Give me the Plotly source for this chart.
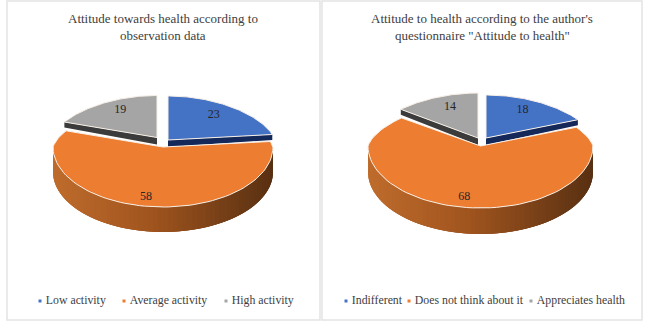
import math
import plotly.graph_objects as go

# ---- data ----
left_title = ["Attitude towards health according to", "observation data"]
left_categories = ["Low activity", "Average activity", "High activity"]
left_values = [23, 58, 19]

right_title = ["Attitude to health according to the author's", 'questionnaire "Attitude to health"']
right_categories = ["Indifferent", "Does not think about it", "Appreciates health"]
right_values = [18, 68, 14]

# ---- style ----
TOP = ["#4472C4", "#ED7D31", "#A5A5A5"]
DARK = ["#14295a", None, "#3b3b3b"]
SIDE_STOPS = [(0.0, (190, 108, 44)), (0.45, (160, 84, 30)), (1.0, (88, 48, 18))]
INK = "#404040"
FONT = "Liberation Serif"
PERSP = 0.14          # back of the disc narrows
DEPTH_SMALL = 7

# centre x, centre y, radius x, back radius y, front radius y
LEFT = dict(
    centres=[(168, 140, 107, 44, 44), (163, 147, 110, 44, 60), (157, 137.5, 105, 42, 42)],
    depth=25, label_r=[0.65, 0.8, 0.8], label_nudge=[(3, -4), (-6, 2), (6, 0)],
    title_x=163, legend_x=[40, 124, 226], panel=(7, 1, 320, 320),
)
RIGHT = dict(
    centres=[(486, 138, 108, 43, 43), (480.5, 146, 112.5, 44, 62), (478, 138, 110, 45, 45)],
    depth=26, label_r=[0.75, 0.8, 0.78], label_nudge=[(-3, -1), (-5, 2), (5, 1)],
    title_x=482, legend_x=[346, 409, 531], panel=(322, 1, 642, 320),
)


def project(c, theta, r=1.0):
    """theta in radians clockwise from north, r in disc radii."""
    cx, cy, rx, ry_back, ry_front = c
    u = r * math.sin(theta)
    v = r * math.cos(theta)
    if v > 0:
        return cx + rx * u * (1 - PERSP * v), cy - ry_back * v
    return cx + rx * u, cy - ry_front * v


def arc(c, a, b, n=80):
    return [project(c, a + (b - a) * i / n) for i in range(n + 1)]


def shade(t):
    for (t0, c0), (t1, c1) in zip(SIDE_STOPS, SIDE_STOPS[1:]):
        if t <= t1:
            f = (t - t0) / (t1 - t0)
            return "rgb(%d,%d,%d)" % tuple(round(p + (q - p) * f) for p, q in zip(c0, c1))
    return "rgb(%d,%d,%d)" % SIDE_STOPS[-1][1]


def poly(fig, pts, color, line=None, width=0):
    fig.add_trace(go.Scatter(
        x=[p[0] for p in pts], y=[p[1] for p in pts], mode="lines", fill="toself",
        fillcolor=color, line=dict(color=line or color, width=width),
        hoverinfo="skip", showlegend=False,
    ))


def draw(fig, values, categories, title, cfg):
    x0, y0, x1, y1 = cfg["panel"]
    fig.add_shape(type="rect", x0=x0, y0=y0, x1=x1, y1=y1, layer="below",
                  line=dict(color="#e3e3e3", width=1.5), fillcolor="white")
    total = sum(values)
    spans, a = [], 0.0
    for v in values:
        b = a + 2 * math.pi * v / total
        spans.append((a, b))
        a = b

    # rim of the large slice, front half only; strips overlap to hide seams
    c = cfg["centres"][1]
    a, b = spans[1]
    lo, hi = max(a, math.pi / 2), min(b, 3 * math.pi / 2)
    n = 70
    d = cfg["depth"]
    for i in range(n):
        t0 = lo + (hi - lo) * i / n
        t1 = lo + (hi - lo) * min(i + 3, n) / n
        p0, p1 = project(c, t0), project(c, t1)
        mid = project(c, lo + (hi - lo) * (i + 0.5) / n)
        poly(fig, [p0, mid, p1, (p1[0], p1[1] + d), (mid[0], mid[1] + d), (p0[0], p0[1] + d)],
             shade((mid[0] - (c[0] - c[2])) / (2 * c[2])))

    # cut faces of the two back slices
    for idx, edge in ((0, 1), (2, 0)):
        cc = cfg["centres"][idx]
        th = spans[idx][edge]
        apex = (cc[0], cc[1])
        end = project(cc, th)
        poly(fig, [apex, end, (end[0], end[1] + DEPTH_SMALL - 1.5), (apex[0], apex[1] + DEPTH_SMALL)], DARK[idx])

    # top faces
    for idx in range(3):
        cc = cfg["centres"][idx]
        a, b = spans[idx]
        pts = [(cc[0], cc[1])] + arc(cc, a, b) + [(cc[0], cc[1])]
        poly(fig, pts, TOP[idx], line="#f7efe6", width=1)

    # value labels
    for idx, v in enumerate(values):
        a, b = spans[idx]
        px, py = project(cfg["centres"][idx], (a + b) / 2, cfg["label_r"][idx])
        nx, ny = cfg["label_nudge"][idx]
        fig.add_trace(go.Scatter(
            x=[px + nx], y=[py + ny], mode="text", text=[str(v)], hoverinfo="skip", showlegend=False,
            textfont=dict(family=FONT, size=12, color="#262626"),
        ))

    # title
    for line, ty in zip(title, (18, 35)):
        fig.add_annotation(x=cfg["title_x"], y=ty, xref="x", yref="y", text=line, showarrow=False,
                           font=dict(family=FONT, size=13, color=INK))

    # legend row
    for idx, name in enumerate(categories):
        fig.add_trace(go.Scatter(
            x=[cfg["legend_x"][idx]], y=[301], mode="markers+text", text=["\u00a0" + name],
            textposition="middle right", hoverinfo="skip", showlegend=False,
            marker=dict(symbol="square", size=3, color=TOP[idx]),
            textfont=dict(family=FONT, size=11.8, color=INK),
        ))


fig = go.Figure()
draw(fig, left_values, left_categories, left_title, LEFT)
draw(fig, right_values, right_categories, right_title, RIGHT)
fig.update_layout(
    width=650, height=326, margin=dict(l=0, r=0, t=0, b=0),
    paper_bgcolor="white", plot_bgcolor="white", showlegend=False,
    xaxis=dict(range=[0, 650], visible=False, fixedrange=True),
    yaxis=dict(range=[326, 0], visible=False, fixedrange=True),
)
fig.write_html("out.html", config={"displayModeBar": False},
               post_script="document.body.style.margin='0';document.documentElement.style.overflow='hidden';")
